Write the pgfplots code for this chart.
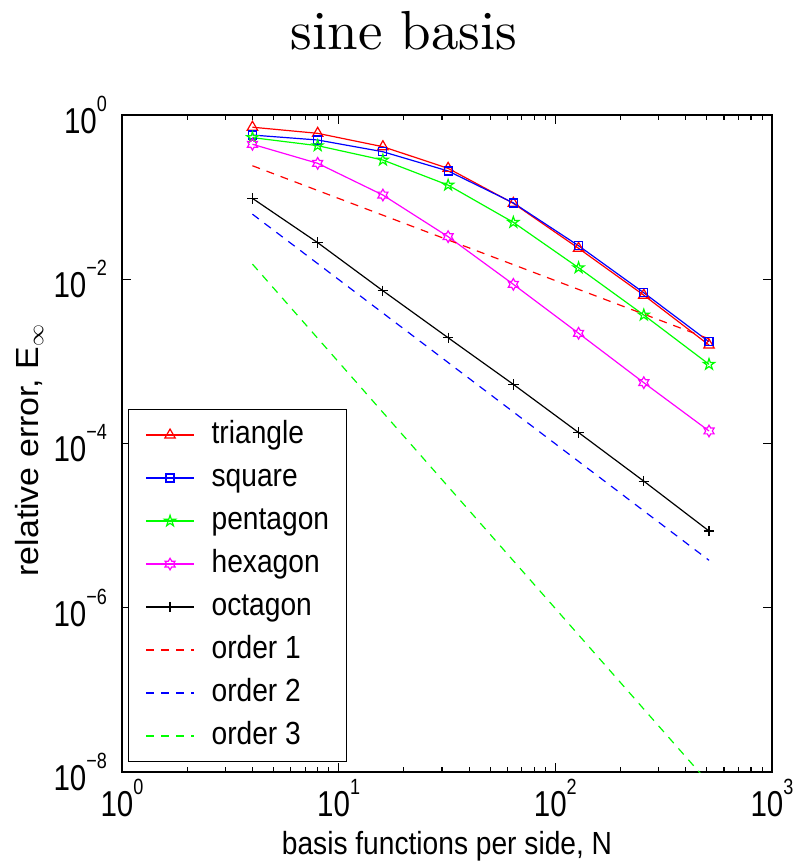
\documentclass[border=0pt]{standalone}
\usepackage{fontspec}
\usepackage{pgfplots}
\pgfplotsset{compat=1.18}
\newfontfamily\helv[FakeStretch=0.88]{Liberation Sans}
\newfontfamily\helvt[FakeStretch=0.82]{Liberation Sans}
\newfontfamily\helvy[FakeStretch=1.06]{Liberation Sans}
\newfontfamily\cmr{lmroman10-regular.otf}
\definecolor{mred}{rgb}{1,0,0}
\definecolor{mblue}{rgb}{0,0,1}
\definecolor{mgreen}{rgb}{0,1,0}
\definecolor{mmag}{rgb}{1,0,1}
\newcommand{\tl}[1]{10\raisebox{11pt}{\fontsize{11}{12}\selectfont #1}}
\pgfdeclareplotmark{pentagram}{%
  \pgfpathmoveto{\pgfpointpolar{90}{\pgfplotmarksize}}%
  \pgfpathlineto{\pgfpointpolar{126}{0.382\pgfplotmarksize}}%
  \pgfpathlineto{\pgfpointpolar{162}{\pgfplotmarksize}}%
  \pgfpathlineto{\pgfpointpolar{198}{0.382\pgfplotmarksize}}%
  \pgfpathlineto{\pgfpointpolar{234}{\pgfplotmarksize}}%
  \pgfpathlineto{\pgfpointpolar{270}{0.382\pgfplotmarksize}}%
  \pgfpathlineto{\pgfpointpolar{306}{\pgfplotmarksize}}%
  \pgfpathlineto{\pgfpointpolar{342}{0.382\pgfplotmarksize}}%
  \pgfpathlineto{\pgfpointpolar{18}{\pgfplotmarksize}}%
  \pgfpathlineto{\pgfpointpolar{54}{0.382\pgfplotmarksize}}%
  \pgfpathclose\pgfusepathqstroke}
\pgfdeclareplotmark{hexagram}{%
  \pgfpathmoveto{\pgfpointpolar{90}{\pgfplotmarksize}}%
  \pgfpathlineto{\pgfpointpolar{120}{0.577\pgfplotmarksize}}%
  \pgfpathlineto{\pgfpointpolar{150}{\pgfplotmarksize}}%
  \pgfpathlineto{\pgfpointpolar{180}{0.577\pgfplotmarksize}}%
  \pgfpathlineto{\pgfpointpolar{210}{\pgfplotmarksize}}%
  \pgfpathlineto{\pgfpointpolar{240}{0.577\pgfplotmarksize}}%
  \pgfpathlineto{\pgfpointpolar{270}{\pgfplotmarksize}}%
  \pgfpathlineto{\pgfpointpolar{300}{0.577\pgfplotmarksize}}%
  \pgfpathlineto{\pgfpointpolar{330}{\pgfplotmarksize}}%
  \pgfpathlineto{\pgfpointpolar{0}{0.577\pgfplotmarksize}}%
  \pgfpathlineto{\pgfpointpolar{30}{\pgfplotmarksize}}%
  \pgfpathlineto{\pgfpointpolar{60}{0.577\pgfplotmarksize}}%
  \pgfpathclose\pgfusepathqstroke}
\begin{document}
\begin{tikzpicture}
\begin{axis}[
  at={(0,0)}, anchor=south west,
  xmode=log, ymode=log,
  scale only axis, width=325pt, height=328.5pt,
  xmin=1, xmax=1000, ymin=1e-8, ymax=1,
  xtick={1,10,100,1000}, xticklabels={\tl{0},\tl{1},\tl{2},\tl{3}},
  ytick={1e-8,1e-6,1e-4,1e-2,1}, yticklabels={\tl{−8},\tl{−6},\tl{−4},\tl{−2},\tl{0}},
  yminorticks=false,
  tick align=inside,
  major tick length=4.5pt, minor tick length=2.5pt,
  tick style={black, line width=0.6pt},
  axis line style={black, line width=1pt},
  tick label style={font=\helvt\fontsize{18}{20}\selectfont},
  yticklabel style={xshift=-4pt},
  xlabel={basis functions per side, N},
  ylabel={relative error, E$_\infty$},
  every axis x label/.style={at={(axis description cs:0.5,-0.126)}, anchor=base, font=\helv\fontsize{16}{19}\selectfont},
  every axis y label/.style={at={(axis description cs:-0.129,0.49)}, rotate=90, anchor=base, font=\helvy\fontsize{16}{19}\selectfont},
  legend style={at={(axis description cs:0.009,0.015)}, anchor=south west,
    font=\helv\fontsize{16}{19}\selectfont, draw=black, line width=0.6pt,
    inner xsep=8.5pt, inner ysep=2pt, column sep=8.5pt, row sep=0pt,
    nodes={inner xsep=0pt, inner ysep=2.5pt, text height=12.5pt, text depth=4pt}},
  legend cell align=left,
  legend image code/.code={\draw[mark repeat=2,mark phase=2,#1] plot coordinates {(0pt,0pt) (12pt,0pt) (24pt,0pt)};},
  every axis plot/.append style={line width=0.6pt},
]
\addplot[mred, mark=triangle, mark size=3pt, mark options={solid}] coordinates {(4,0.71)(8,0.598)(16,0.411)(32,0.224)(64,0.084)(128,0.0238)(256,0.0064)(512,0.00158)};
\addlegendentry{triangle}
\addplot[mblue, mark=square, mark size=2pt, mark options={solid}] coordinates {(4,0.57)(8,0.496)(16,0.357)(32,0.208)(64,0.085)(128,0.0256)(256,0.00685)(512,0.00173)};
\addlegendentry{square}
\addplot[mgreen, mark=pentagram, mark size=2.9pt, mark options={solid}] coordinates {(4,0.53)(8,0.423)(16,0.283)(32,0.140)(64,0.0493)(128,0.0138)(256,0.00367)(512,0.00092)};
\addlegendentry{pentagon}
\addplot[mmag, mark=hexagram, mark size=2.9pt, mark options={solid}] coordinates {(4,0.44)(8,0.258)(16,0.106)(32,0.033)(64,0.00867)(128,0.0022)(256,0.00055)(512,0.000142)};
\addlegendentry{hexagon}
\addplot[black, mark=+, mark size=2.6pt, mark options={solid}] coordinates {(4,0.0966)(8,0.0279)(16,0.00724)(32,0.00194)(64,0.000525)(128,0.000136)(256,3.48e-5)(512,8.6e-6)};
\addlegendentry{octagon}
\addplot[mred, dash pattern=on 4pt off 3.5pt] coordinates {(4,0.241)(512,0.00188)};
\addlegendentry{order 1}
\addplot[mblue, dash pattern=on 4pt off 3.5pt] coordinates {(4,0.062)(512,3.78e-6)};
\addlegendentry{order 2}
\addplot[mgreen, dash pattern=on 4pt off 3.5pt] coordinates {(4,0.0153)(512,7.3e-9)};
\addlegendentry{order 3}
\end{axis}
\node[anchor=base, font=\cmr\fontsize{27.5}{30}\selectfont, inner sep=0pt] at (141pt,361pt) {sine basis};
\pgfresetboundingbox
\path[use as bounding box] (-61pt,-46.5pt) rectangle (336pt,386pt);
\end{tikzpicture}
\end{document}
